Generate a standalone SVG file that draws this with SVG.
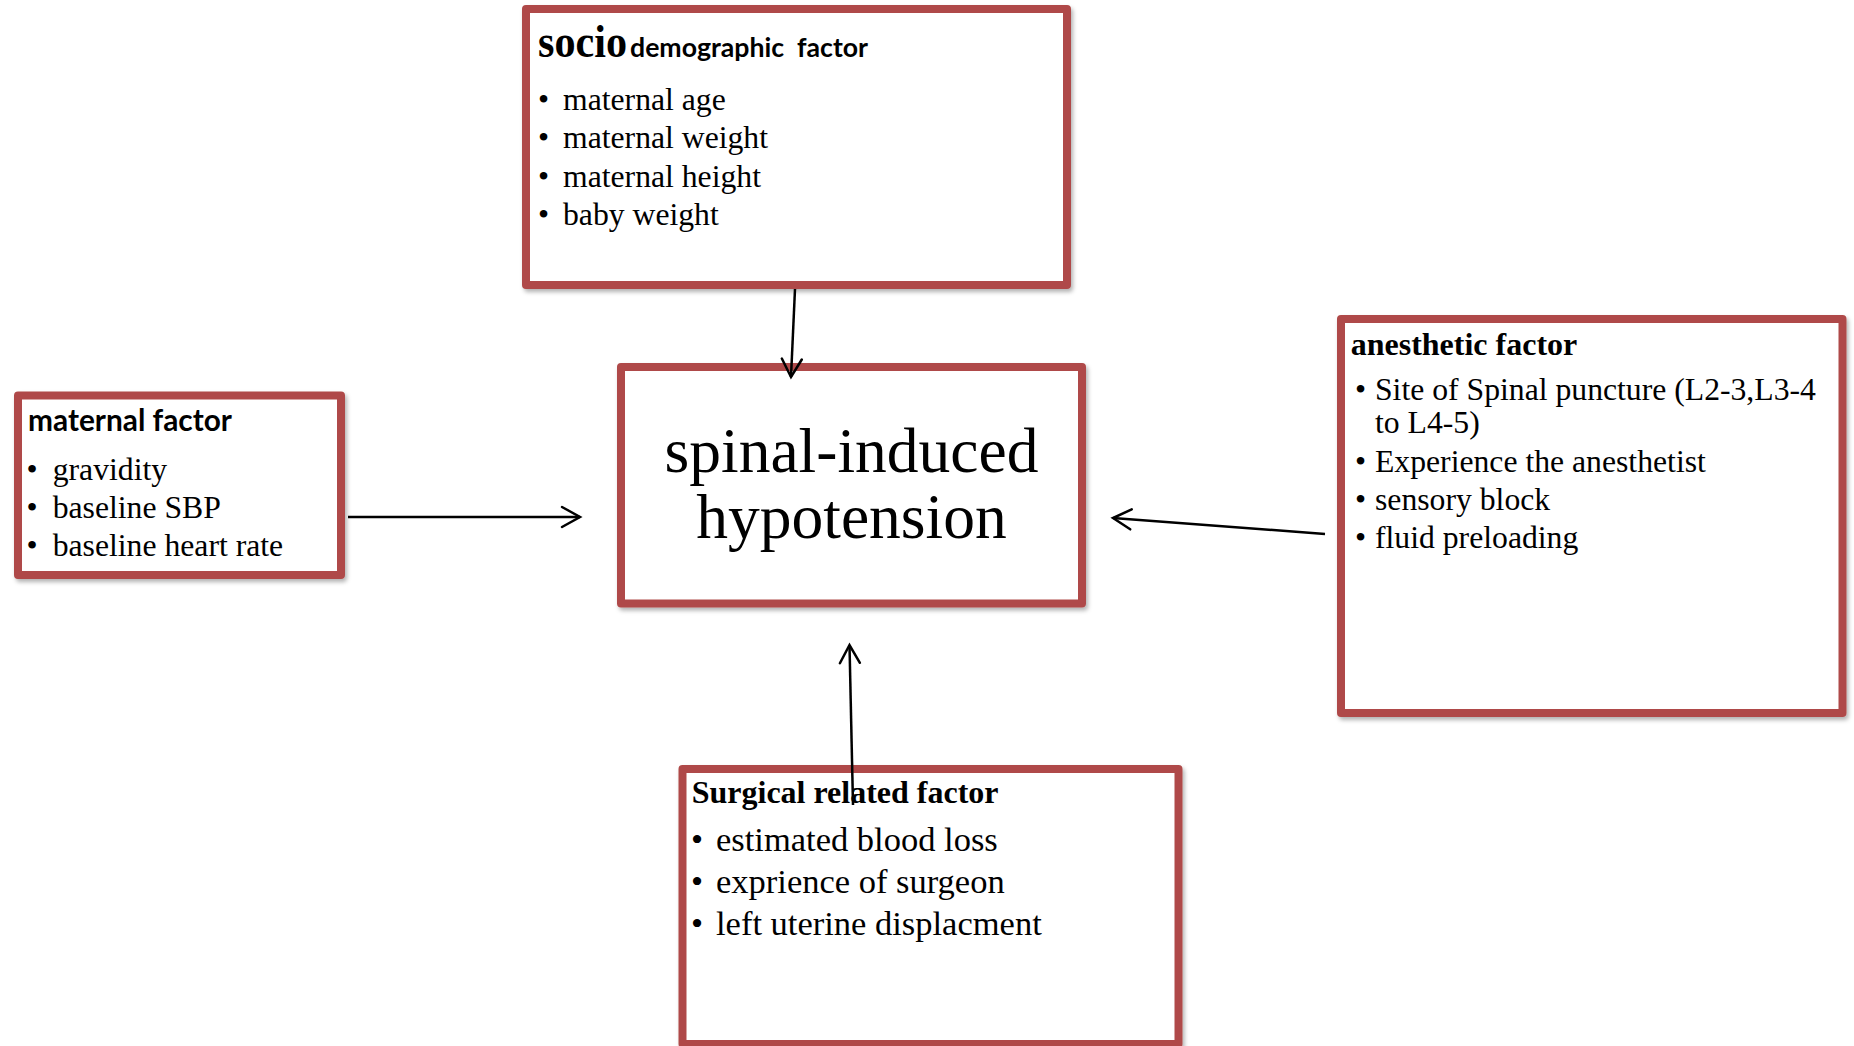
<svg xmlns="http://www.w3.org/2000/svg" width="1854" height="1046" viewBox="0 0 1854 1046">
<style>
.box{fill:#fff;stroke:#AF4A48;stroke-width:8;stroke-linejoin:round;filter:url(#sh)}
.t{font-family:"Liberation Serif","Times New Roman",serif;fill:#000}
.tb{font-family:"Liberation Serif","Times New Roman",serif;font-weight:bold;fill:#000}
.s{font-family:Lato,"Liberation Sans",sans-serif;font-weight:bold;fill:#000}
.b{font-size:31.7px}
.b2{font-size:34.5px}
.conn line{stroke:#000;stroke-width:2.5;fill:none;marker-end:url(#ah)}
</style>
<defs>
<filter id="sh" x="-5%" y="-5%" width="112%" height="115%">
<feDropShadow dx="2" dy="3" stdDeviation="2" flood-color="#000" flood-opacity="0.3"/>
</filter>
<marker id="ah" viewBox="-24 -14 28 28" refX="0" refY="0" markerWidth="28" markerHeight="28" markerUnits="userSpaceOnUse" orient="auto" overflow="visible">
<path d="M-18,-10 L0,0 L-18,10" fill="none" stroke="#000" stroke-width="2.5" stroke-linecap="round"/>
</marker>
</defs>
<rect width="1854" height="1046" fill="#fff"/>

<g id="socio">
<rect class="box" x="526" y="9" width="541" height="276"/>
<text class="tb" x="538" y="57" font-size="46" textLength="89" lengthAdjust="spacingAndGlyphs">socio</text>
<text class="s" x="630" y="57" font-size="27" textLength="238" lengthAdjust="spacingAndGlyphs" xml:space="preserve">demographic  factor</text>
<g class="t b">
<text x="538" y="110">•</text><text x="563" y="110">maternal age</text>
<text x="538" y="148">•</text><text x="563" y="148">maternal weight</text>
<text x="538" y="186.5">•</text><text x="563" y="186.5">maternal height</text>
<text x="538" y="225">•</text><text x="563" y="225">baby weight</text>
</g>
</g>

<g id="maternal">
<rect class="box" x="18" y="395.5" width="323" height="179.5"/>
<text class="s" x="28" y="430.7" font-size="30" textLength="204" lengthAdjust="spacingAndGlyphs">maternal factor</text>
<g class="t b">
<text x="26.5" y="480">•</text><text x="52.7" y="480">gravidity</text>
<text x="26.5" y="518">•</text><text x="52.7" y="518">baseline SBP</text>
<text x="26.5" y="556">•</text><text x="52.7" y="556">baseline heart rate</text>
</g>
</g>

<g id="outcome">
<rect class="box" x="621" y="367" width="461" height="236.5"/>
<text class="t" x="851.5" y="471.7" font-size="63.5" text-anchor="middle">spinal-induced</text>
<text class="t" x="851.5" y="538" font-size="63.5" text-anchor="middle">hypotension</text>
</g>

<g id="anesthetic">
<rect class="box" x="1341" y="319" width="501.5" height="394"/>
<text class="tb" x="1350.7" y="355" font-size="32">anesthetic factor</text>
<g class="t b">
<text x="1355" y="400">•</text><text x="1375" y="400">Site of Spinal puncture (L2-3,L3-4</text>
<text x="1375" y="433.3">to L4-5)</text>
<text x="1355" y="471.7">•</text><text x="1375" y="471.7">Experience the anesthetist</text>
<text x="1355" y="510">•</text><text x="1375" y="510">sensory block</text>
<text x="1355" y="548.3">•</text><text x="1375" y="548.3">fluid preloading</text>
</g>
</g>

<g id="surgical">
<rect class="box" x="682.5" y="769" width="496" height="275"/>
<text class="tb" x="691.7" y="803.3" font-size="32">Surgical related factor</text>
<g class="t b2">
<text x="691" y="851">•</text><text x="716" y="851">estimated blood loss</text>
<text x="691" y="893.3">•</text><text x="716" y="893.3">exprience of surgeon</text>
<text x="691" y="935">•</text><text x="716" y="935">left uterine displacment</text>
</g>
</g>

<g id="connectors" class="conn">
<line x1="795" y1="289" x2="791" y2="377"/>
<line x1="348" y1="517" x2="580" y2="517"/>
<line x1="1325" y1="534" x2="1113" y2="518"/>
<line x1="853" y1="805" x2="849.5" y2="645"/>
</g>
</svg>
